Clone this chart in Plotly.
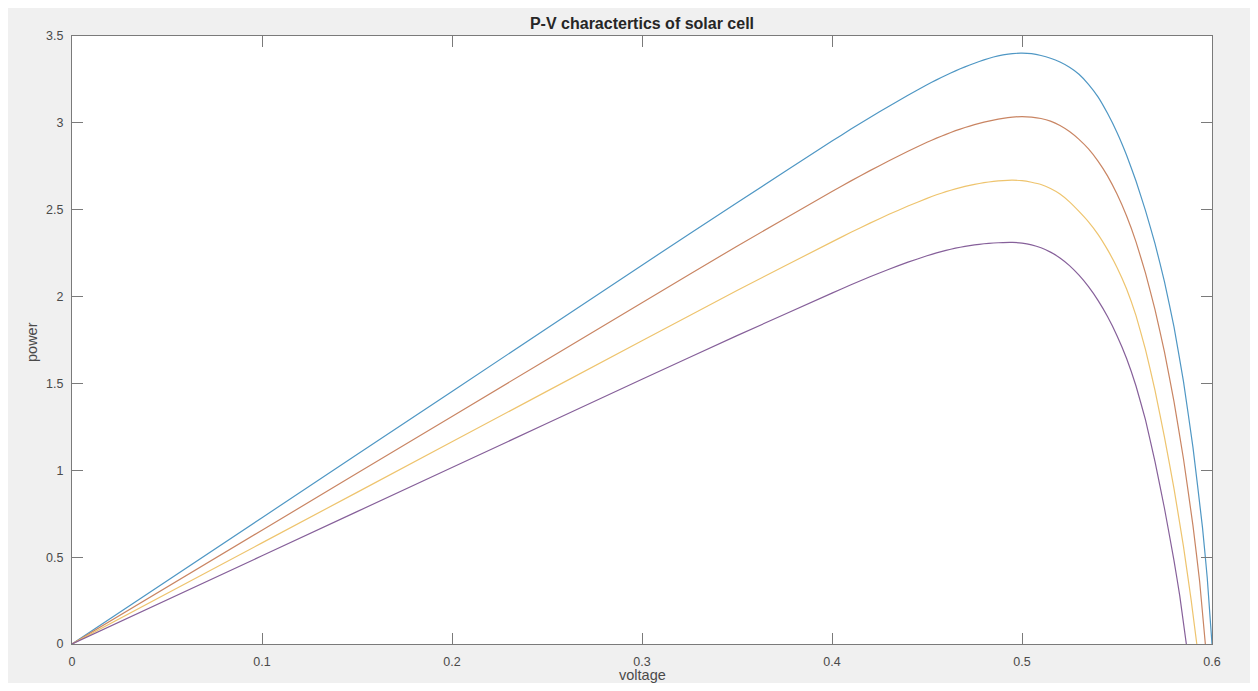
import plotly.graph_objects as go

# ---- data ----
voltage_blue = [0, 0.1, 0.2, 0.3, 0.35, 0.4, 0.41, 0.42, 0.43, 0.44, 0.45, 0.455, 0.46, 0.465, 0.47, 0.475,
                0.48, 0.485, 0.49, 0.495, 0.5, 0.505, 0.51, 0.515, 0.52, 0.525, 0.53, 0.535, 0.54, 0.545,
                0.55, 0.555, 0.56, 0.565, 0.57, 0.575, 0.58, 0.585, 0.59, 0.595, 0.5975, 0.6]
power_blue = [0, 0.727, 1.454, 2.181, 2.54, 2.895, 2.964, 3.031, 3.096, 3.159, 3.219, 3.2475, 3.2745, 3.2995,
              3.3225, 3.3435, 3.3625, 3.379, 3.391, 3.399, 3.401, 3.398, 3.388, 3.372, 3.35, 3.32, 3.28, 3.222,
              3.15, 3.055, 2.945, 2.815, 2.665, 2.495, 2.305, 2.085, 1.825, 1.51, 1.13, 0.67, 0.38, 0.0]

voltage_orange = [0, 0.1, 0.2, 0.3, 0.35, 0.4, 0.41, 0.42, 0.43, 0.44, 0.45, 0.455, 0.46, 0.465, 0.47, 0.475,
                  0.48, 0.485, 0.49, 0.495, 0.5, 0.505, 0.51, 0.515, 0.52, 0.525, 0.53, 0.535, 0.54, 0.545,
                  0.55, 0.555, 0.56, 0.565, 0.57, 0.575, 0.58, 0.585, 0.59, 0.5935, 0.5965]
power_orange = [0, 0.655, 1.31, 1.965, 2.29, 2.605, 2.666, 2.725, 2.782, 2.8365, 2.888, 2.912, 2.934, 2.955,
                2.973, 2.99, 3.004, 3.016, 3.026, 3.033, 3.036, 3.033, 3.025, 3.01, 2.985, 2.95, 2.905, 2.85,
                2.78, 2.695, 2.59, 2.465, 2.315, 2.135, 1.925, 1.68, 1.395, 1.065, 0.68, 0.36, 0.0]

voltage_yellow = [0, 0.1, 0.2, 0.3, 0.35, 0.4, 0.41, 0.42, 0.43, 0.44, 0.45, 0.455, 0.46, 0.465, 0.47, 0.475,
                  0.48, 0.485, 0.49, 0.495, 0.5, 0.505, 0.51, 0.515, 0.52, 0.525, 0.53, 0.535, 0.54, 0.545,
                  0.55, 0.555, 0.56, 0.565, 0.57, 0.575, 0.58, 0.585, 0.589, 0.592]
power_yellow = [0, 0.582, 1.164, 1.746, 2.035, 2.315, 2.37, 2.423, 2.4735, 2.521, 2.5655, 2.586, 2.604, 2.62,
                2.634, 2.646, 2.656, 2.663, 2.668, 2.67, 2.667, 2.658, 2.645, 2.622, 2.59, 2.545, 2.49, 2.43,
                2.358, 2.27, 2.168, 2.045, 1.89, 1.695, 1.46, 1.19, 0.895, 0.56, 0.255, 0.0]

voltage_purple = [0, 0.1, 0.2, 0.3, 0.35, 0.4, 0.41, 0.42, 0.43, 0.44, 0.45, 0.455, 0.46, 0.465, 0.47, 0.475,
                  0.48, 0.485, 0.49, 0.495, 0.5, 0.505, 0.51, 0.515, 0.52, 0.525, 0.53, 0.535, 0.54, 0.545,
                  0.55, 0.555, 0.56, 0.565, 0.57, 0.575, 0.58, 0.583, 0.5865]
power_purple = [0, 0.508, 1.016, 1.524, 1.775, 2.02, 2.068, 2.114, 2.1575, 2.198, 2.235, 2.2515, 2.266, 2.2785,
                2.289, 2.2975, 2.304, 2.3085, 2.311, 2.3115, 2.308, 2.298, 2.281, 2.256, 2.222, 2.178, 2.123,
                2.057, 1.978, 1.885, 1.775, 1.645, 1.485, 1.29, 1.05, 0.78, 0.48, 0.28, 0.0]

x_tickvals = [0, 0.1, 0.2, 0.3, 0.4, 0.5, 0.6]
x_ticktext = ["0", "0.1", "0.2", "0.3", "0.4", "0.5", "0.6"]
y_tickvals = [0, 0.5, 1, 1.5, 2, 2.5, 3, 3.5]
y_ticktext = ["0", "0.5", "1", "1.5", "2", "2.5", "3", "3.5"]

title_text = "P-V charactertics of solar cell"
x_label = "voltage"
y_label = "power"

series = [
    (voltage_blue, power_blue, "#4f97c4"),
    (voltage_orange, power_orange, "#c98563"),
    (voltage_yellow, power_yellow, "#eec46e"),
    (voltage_purple, power_purple, "#86609a"),
]

fig = go.Figure()
for xs, ys, col in series:
    fig.add_trace(go.Scatter(x=xs, y=ys, mode="lines",
                             line=dict(color=col, width=1.2, shape="spline", smoothing=0.3),
                             showlegend=False, hoverinfo="skip"))

# the page body adds an 8px margin, so figure coords = page coords - 8
OFF = 8
W, H = 1250, 675
L, R, T, B = 72 - OFF, 1212 - OFF, 36 - OFF, 644 - OFF
PW, PH = R - L, B - T

def py(y_page):
    return (B - (y_page - OFF)) / PH

FONT = "Liberation Sans, Arial, sans-serif"
axis_common = dict(showgrid=False, zeroline=False, showline=True, linecolor="#7a7a7a", linewidth=1,
                   mirror="ticks", ticks="inside", ticklen=11, tickcolor="#7a7a7a", tickwidth=1,
                   tickfont=dict(family=FONT, size=12.5, color="#4a4a4a"))

fig.update_layout(
    width=W, height=H,
    margin=dict(l=L, r=W - R, t=T, b=H - B, pad=0),
    paper_bgcolor="#f0f0f0",
    plot_bgcolor="#ffffff",
    title=dict(text="<b>" + title_text + "</b>", x=0.5, xref="paper", xanchor="center",
               y=1 - (23 - OFF) / H, yanchor="middle",
               font=dict(family=FONT, size=16, color="#262626")),
    xaxis=dict(range=[0, 0.6], tickvals=x_tickvals, ticktext=x_ticktext, ticklabelstandoff=6, **axis_common),
    yaxis=dict(range=[0, 3.5], tickvals=y_tickvals, ticktext=y_ticktext, ticklabelstandoff=5, **axis_common),
    annotations=[
        dict(text=x_label, xref="paper", yref="paper", x=0.5, y=0, xanchor="center", yanchor="middle",
             yshift=-(675 - 644), showarrow=False,
             font=dict(family=FONT, size=14.5, color="#4a4a4a")),
        dict(text=y_label, xref="paper", yref="paper", x=0, y=py(342), xanchor="center", yanchor="middle",
             xshift=32 - 72, textangle=-90, showarrow=False,
             font=dict(family=FONT, size=14.5, color="#4a4a4a")),
    ],
)

fig.write_html("out.html")
